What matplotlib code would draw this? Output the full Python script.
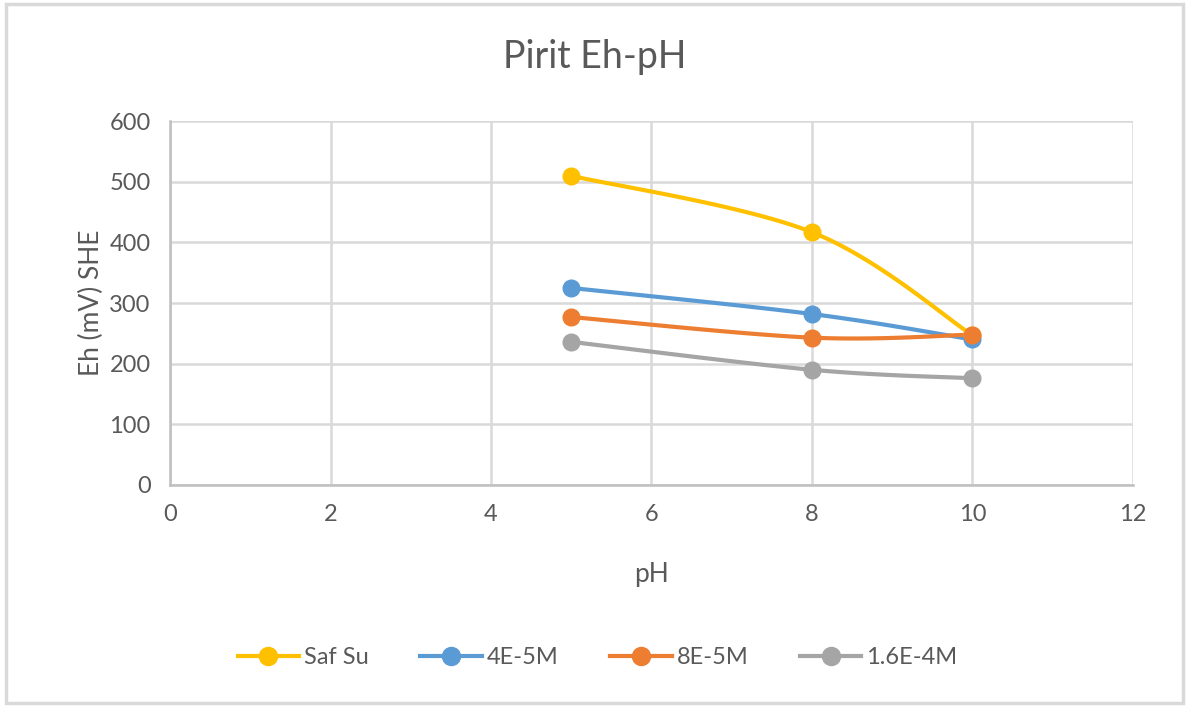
import numpy as np
import matplotlib.pyplot as plt
from matplotlib.patches import Rectangle

plt.rcParams['font.family'] = ['Lato', 'DejaVu Sans']

# Data
ph = [5, 8, 10]
saf_su = [510, 417, 247]
c_4e5 = [325, 282, 240]
c_8e5 = [277, 243, 248]
c_16e4 = [236, 190, 176]

labels = ['Saf Su', '4E-5M', '8E-5M', '1.6E-4M']
colors = ['#FFC000', '#5B9BD5', '#ED7D31', '#A5A5A5']


def smooth(x, y, n=40):
    # Excel style smoothed line (Catmull-Rom / Bezier, tension 1/6)
    x = np.asarray(x, float)
    y = np.asarray(y, float)
    px = np.concatenate([[x[0]], x, [x[-1]]])
    py = np.concatenate([[y[0]], y, [y[-1]]])
    xs, ys = [], []
    t = np.linspace(0, 1, n)
    for i in range(1, len(px) - 2):
        p0 = np.array([px[i], py[i]])
        p3 = np.array([px[i + 1], py[i + 1]])
        p1 = p0 + (np.array([px[i + 1], py[i + 1]]) - np.array([px[i - 1], py[i - 1]])) / 6
        p2 = p3 - (np.array([px[i + 2], py[i + 2]]) - np.array([px[i], py[i]])) / 6
        b = ((1 - t) ** 3)[:, None] * p0 + (3 * (1 - t) ** 2 * t)[:, None] * p1 \
            + (3 * (1 - t) * t ** 2)[:, None] * p2 + (t ** 3)[:, None] * p3
        xs.extend(b[:, 0])
        ys.extend(b[:, 1])
    return xs, ys


fig = plt.figure(figsize=(11.95, 7.09), dpi=100)
ax = fig.add_axes([0.1423, 0.316, 0.8057, 0.513])

fig.patches.append(Rectangle((6 / 1195, 6 / 709), 1177 / 1195, 699 / 709,
                             transform=fig.transFigure, fill=False,
                             edgecolor='#d9d9d9', linewidth=2.5))

for yv, lab, c in zip([saf_su, c_4e5, c_8e5, c_16e4], labels, colors):
    sx, sy = smooth(ph, yv)
    ax.plot(sx, sy, color=c, linewidth=3, solid_capstyle='round', zorder=3)
    ax.plot(ph, yv, 'o', color=c, markersize=12, zorder=4)
    ax.plot([], [], '-o', color=c, linewidth=3, markersize=13, label=lab)

ax.set_xlim(0, 12)
ax.set_ylim(0, 600)
ax.set_xticks(range(0, 13, 2))
ax.set_yticks(range(0, 601, 100))
ax.grid(True, color='#d9d9d9', linewidth=1.8)
ax.set_axisbelow(True)
for s in ['top', 'right']:
    ax.spines[s].set_visible(False)
for s in ['left', 'bottom']:
    ax.spines[s].set_color('#bfbfbf')
    ax.spines[s].set_linewidth(1.8)
ax.tick_params(length=0, labelsize=17, colors='#595959', pad=14)

fig.text(0.498, 1 - 57 / 709, 'Pirit Eh-pH', fontsize=27, color='#595959',
         ha='center', va='center')
ax.set_xlabel('pH', fontsize=19, color='#595959', labelpad=26)
ax.set_ylabel('Eh (mV) SHE', fontsize=19, color='#595959', labelpad=4)

fig.legend(loc='center', bbox_to_anchor=(0.5, 1 - 658 / 709), ncol=4,
           frameon=False, fontsize=17, handlelength=2.6, columnspacing=2.2,
           handletextpad=0.2, labelcolor='#595959')

fig.savefig('out.png', dpi=100)
